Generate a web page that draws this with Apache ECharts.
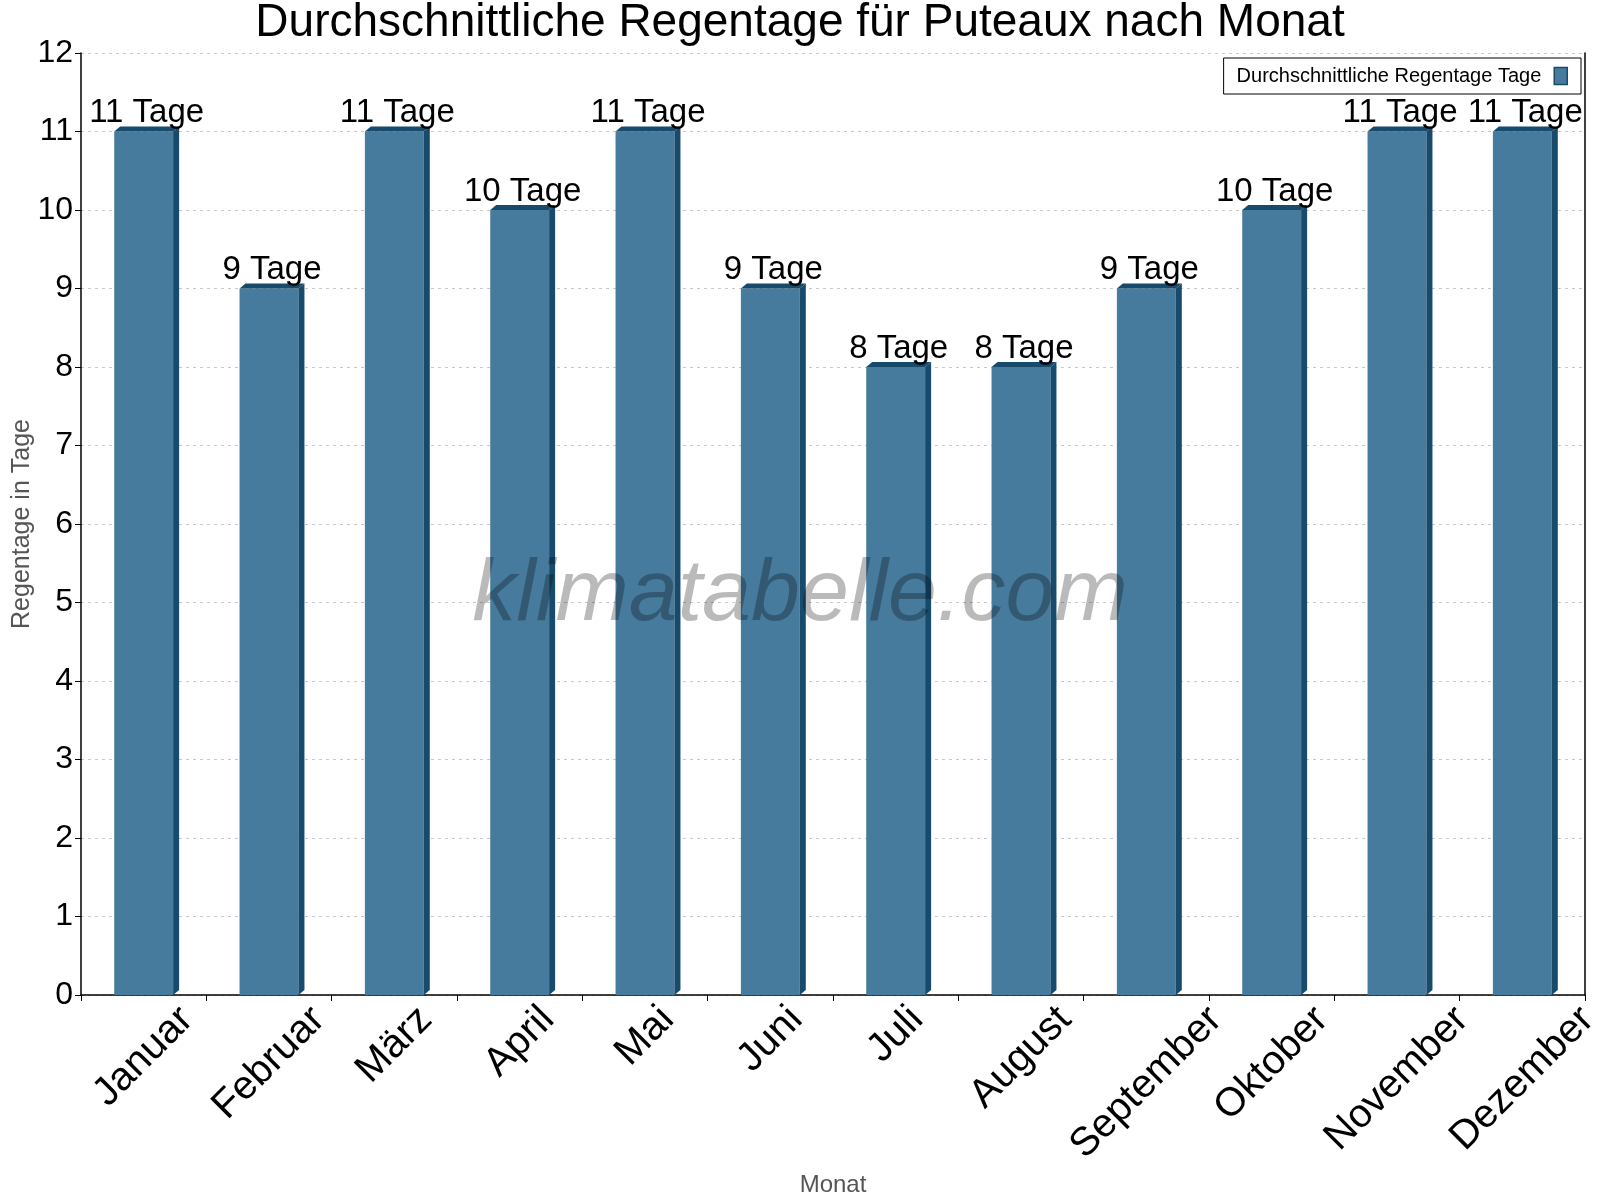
<!DOCTYPE html>
<html>
<head>
<meta charset="utf-8">
<script src="https://cdn.jsdelivr.net/npm/echarts@6/dist/echarts.min.js"></script>
<style>
html,body{margin:0;padding:0;background:#fff;}
#chart{width:1600px;height:1200px;}
</style>
</head>
<body>
<div id="chart"></div>
<script>
var months = ['Januar','Februar','März','April','Mai','Juni','Juli','August','September','Oktober','November','Dezember'];
var rainDays = [11,9,11,10,11,9,8,8,9,10,11,11];
var yTicks = [0,1,2,3,4,5,6,7,8,9,10,11,12];
var unit = 'Tage';
var seriesName = 'Durchschnittliche Regentage Tage';
var titleText = 'Durchschnittliche Regentage für Puteaux nach Monat';

var FONT = '"Liberation Sans", Arial, sans-serif';
var FRONT = '#477B9D';
var DARK = '#184A6C';
var XLABEL_SIZE = 40;

var measureCtx = document.createElement('canvas').getContext('2d');
measureCtx.font = XLABEL_SIZE + 'px ' + FONT;

var chart = echarts.init(document.getElementById('chart'));
var option = {
  animation: false,
  backgroundColor: '#fff',
  title: {
    text: titleText,
    left: 'center',
    top: 0,
    padding: 0,
    textStyle: {fontFamily: FONT, fontSize: 46, fontWeight: 'normal', color: '#000'}
  },
  legend: {
    right: 19,
    top: 58,
    align: 'right',
    padding: [8, 13, 8, 13],
    borderColor: '#000',
    borderWidth: 1,
    backgroundColor: '#fff',
    itemWidth: 13,
    itemHeight: 17,
    icon: 'rect',
    textStyle: {fontFamily: FONT, fontSize: 20, color: '#000', padding: [0, 8, 0, 0]},
    data: [{name: seriesName, itemStyle: {color: FRONT, borderColor: DARK, borderWidth: 1.5}}]
  },
  grid: {left: 81, right: 15, top: 53, bottom: 205, containLabel: false, outerBoundsMode: 'none'},
  xAxis: {
    type: 'category',
    data: months,
    name: 'Monat',
    nameLocation: 'middle',
    nameGap: 178,
    nameMoveOverlap: false,
    nameTextStyle: {fontFamily: FONT, fontSize: 24, color: '#555'},
    axisLine: {lineStyle: {color: '#000', width: 1.5}},
    axisTick: {show: true, alignWithLabel: false, length: 6, lineStyle: {color: '#000'}},
    axisLabel: {show: false}
  },
  yAxis: [{
    type: 'value',
    min: yTicks[0],
    max: yTicks[yTicks.length - 1],
    interval: 1,
    name: 'Regentage in Tage',
    nameLocation: 'middle',
    nameGap: 46,
    nameMoveOverlap: false,
    nameTextStyle: {fontFamily: FONT, fontSize: 25, color: '#555'},
    axisLine: {show: true, lineStyle: {color: '#000', width: 1.5}},
    axisTick: {show: true, length: 6, lineStyle: {color: '#000'}},
    axisLabel: {fontFamily: FONT, fontSize: 32, color: '#000', margin: 8},
    splitLine: {show: true, lineStyle: {color: '#c8c8c8', type: [3, 4], width: 1}}
  }, {
    type: 'value',
    min: yTicks[0],
    max: yTicks[yTicks.length - 1],
    interval: 1,
    position: 'right',
    axisLine: {show: true, lineStyle: {color: '#000', width: 1.5}},
    axisTick: {show: false},
    axisLabel: {show: false},
    splitLine: {show: false}
  }],
  series: [{
    name: seriesName,
    type: 'custom',
    clip: false,
    itemStyle: {color: FRONT, borderColor: DARK},
    data: rainDays.map(function (v, i) { return [i, v]; }),
    renderItem: function (params, api) {
      var idx = api.value(0), v = api.value(1);
      var top = api.coord([idx, v]);
      var base = api.coord([idx, 0]);
      var w = api.size([1, 0])[0] * 0.47;
      var dx = 6, dy = 5;
      var x0 = top[0] - w / 2, x1 = top[0] + w / 2;
      var yT = top[1], yB = base[1];
      var name = months[idx];
      var W = measureCtx.measureText(name).width;
      return {
        type: 'group',
        children: [
          {type: 'rect', shape: {x: x0, y: yT, width: w, height: yB - yT}, style: {fill: FRONT}},
          {type: 'polygon', shape: {points: [[x1, yT], [x1 + dx, yT - dy], [x1 + dx, yB - dy], [x1, yB]]}, style: {fill: DARK}},
          {type: 'polygon', shape: {points: [[x0, yT], [x0 + dx, yT - dy], [x1 + dx, yT - dy], [x1, yT]]}, style: {fill: DARK}},
          {type: 'text', x: (x0 + x1 + dx) / 2, y: yT - 2,
           style: {text: v + ' ' + unit, fill: '#000', font: '33px ' + FONT, align: 'center', verticalAlign: 'bottom'}},
          {type: 'text', x: top[0], y: yB + 18.5 + 0.354 * W, rotation: Math.PI / 4,
           style: {text: name, fill: '#000', font: XLABEL_SIZE + 'px ' + FONT, align: 'center', verticalAlign: 'middle'}}
        ]
      };
    }
  }],
  graphic: [{
    type: 'text',
    left: 'center',
    top: 552,
    z: 100,
    style: {text: 'klimatabelle.com', font: 'italic 88px ' + FONT, fill: 'rgba(0,0,0,0.27)'}
  }]
};
chart.setOption(option);
</script>
</body>
</html>
